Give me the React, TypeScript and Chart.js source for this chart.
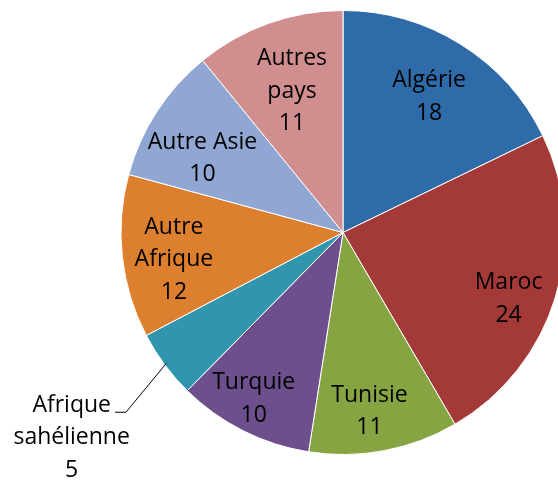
import React, { useEffect, useRef } from "react";
import { Chart, registerables } from "chart.js";

Chart.register(...registerables);

const categories = [
  "Algérie",
  "Maroc",
  "Tunisie",
  "Turquie",
  "Afrique sahélienne",
  "Autre Afrique",
  "Autre Asie",
  "Autres pays",
];
const labelLines = [
  ["Algérie"],
  ["Maroc"],
  ["Tunisie"],
  ["Turquie"],
  ["Afrique", "sahélienne"],
  ["Autre", "Afrique"],
  ["Autre Asie"],
  ["Autres", "pays"],
];
const values = [18, 24, 11, 10, 5, 12, 10, 11];
const colors = [
  "#2E6BA8",
  "#A33A37",
  "#87A443",
  "#6D4F8E",
  "#3195AD",
  "#DC7F2E",
  "#8FA7D2",
  "#D08E8F",
];
// label placement: distance from centre (fraction of radius) and angle shift (degrees)
const labelRadius = [0.73, 0.8, 0.807, 0.842, 1.527, 0.77, 0.72, 0.685];
const labelAngleShift = [0, 4.3, 2.2, 1.8, -0.3, -2.2, -4.5, 0];
const outsideLabel = [false, false, false, false, true, false, false, false];

const FONT = "'Open Sans', sans-serif";
const FONT_SIZE = 23;
const LINE_H = 32.5;
const TEXT_DY = 2;

const labelPlugin = {
  id: "sliceLabels",
  afterDatasetsDraw(chart: any) {
    const ctx = chart.ctx;
    const meta = chart.getDatasetMeta(0);
    ctx.save();
    ctx.font = `${FONT_SIZE}px ${FONT}`;
    ctx.fillStyle = "#000";
    ctx.textAlign = "center";
    ctx.textBaseline = "middle";
    meta.data.forEach((arc: any, i: number) => {
      const { x, y, startAngle, endAngle, outerRadius } = arc.getProps(
        ["x", "y", "startAngle", "endAngle", "outerRadius"],
        true
      );
      const midSlice = (startAngle + endAngle) / 2;
      const mid = midSlice + (labelAngleShift[i] * Math.PI) / 180;
      const r = outerRadius * labelRadius[i];
      const cx = x + Math.cos(mid) * r;
      const cy = y + Math.sin(mid) * r + TEXT_DY;
      const lines = [...labelLines[i], String(values[i])];
      const top = cy - ((lines.length - 1) * LINE_H) / 2;
      lines.forEach((t, k) => ctx.fillText(t, cx, top + k * LINE_H));
      if (outsideLabel[i]) {
        const ex = x + Math.cos(midSlice) * (outerRadius - 2);
        const ey = y + Math.sin(midSlice) * (outerRadius - 2);
        const firstW = ctx.measureText(labelLines[i][0]).width;
        const ly = top + 7;
        const hx = cx + firstW / 2 + 4;
        ctx.strokeStyle = "#000";
        ctx.lineWidth = 1;
        ctx.beginPath();
        ctx.moveTo(ex, ey);
        ctx.lineTo(hx + 11, ly);
        ctx.lineTo(hx, ly);
        ctx.stroke();
      }
    });
    ctx.restore();
  },
};

export default function App() {
  const ref = useRef<HTMLCanvasElement | null>(null);
  useEffect(() => {
    if (!ref.current) return;
    const chart = new Chart(ref.current, {
      type: "pie",
      data: {
        labels: categories,
        datasets: [
          {
            data: values,
            backgroundColor: colors,
            borderColor: "#ffffff",
            borderWidth: 1,
          },
        ],
      },
      options: {
        responsive: false,
        animation: false,
        layout: { padding: { left: 10, right: 10, top: 10, bottom: 26 } },
        plugins: {
          legend: { display: false },
          tooltip: { enabled: false },
        },
      },
      plugins: [labelPlugin],
    });
    return () => chart.destroy();
  }, []);
  return (
    <div
      style={{
        position: "absolute",
        left: 0,
        top: 0,
        width: 558,
        height: 481,
        overflow: "hidden",
        background: "#fff",
      }}
    >
      <canvas ref={ref} width={686} height={481} style={{ display: "block" }} />
    </div>
  );
}
